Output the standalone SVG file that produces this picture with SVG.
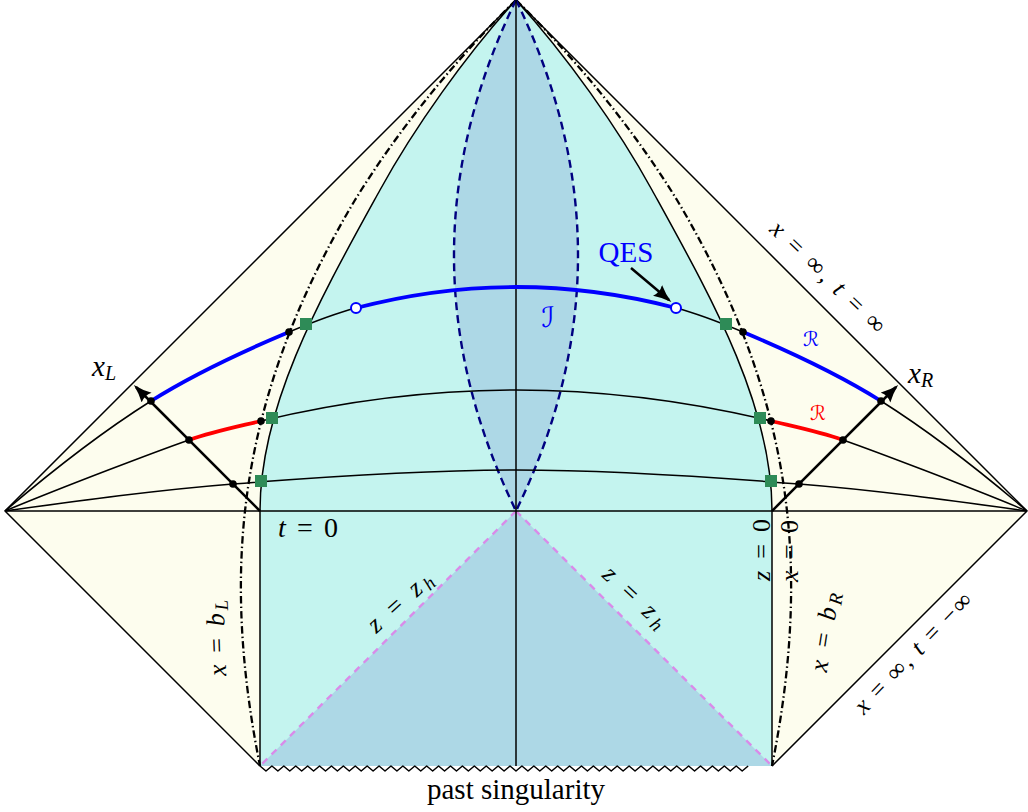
<svg xmlns="http://www.w3.org/2000/svg" width="1028" height="812" viewBox="0 0 1028 812">
<style>
.ln{fill:none;stroke:#000;stroke-width:1.5;stroke-linejoin:round}
.dd{fill:none;stroke:#000;stroke-width:2.3;stroke-dasharray:7.5 3 1.5 3}
.lens{fill:none;stroke:#000080;stroke-width:2.4;stroke-dasharray:8 5}
.vio{fill:none;stroke:#d98be9;stroke-width:2.4;stroke-dasharray:7 6}
.blue{fill:none;stroke:#0000ff;stroke-width:3.8;stroke-linecap:round}
.red{fill:none;stroke:#ff0000;stroke-width:3.8;stroke-linecap:round}
.arr{fill:none;stroke:#000;stroke-width:2.5}
.dot{fill:#000}
.sq{fill:#2e8b57}
.oc{fill:#fff;stroke:#0000ff;stroke-width:2}
text{font-family:"Liberation Serif","DejaVu Serif",serif;fill:#000}
.it{font-style:italic}
.scr{font-family:"DejaVu Serif","DejaVu Sans",serif}
</style>
<defs>
<marker id="ah" markerUnits="userSpaceOnUse" markerWidth="20" markerHeight="16" refX="15" refY="7" orient="auto">
<path d="M0,0 Q8,4.5 18,7 Q8,9.5 0,14 Q3.5,7 0,0 Z" fill="#000"/>
</marker>
</defs>

<g id="regions">
<polygon points="5,511 516,0 1027,511 772,766 260,766" fill="#fdfdee"/>
<path d="M516,0 C466,55 414,128 380,190 C321,297 260,404 260,511 L260,766 L772,766 L772,511 C772,404 711,297 652,190 C618,128 566,55 516,0 Z" fill="#c4f4ef"/>
<path d="M516,0 Q392,255.5 516,511 Q640,255.5 516,0 Z" fill="#add8e6"/>
<polygon points="516,511 260,766 772,766" fill="#add8e6"/>
</g>

<g id="connectors">
<polyline class="ln" points="260,766 5,511 516,0 1027,511 772,766"/>
<path class="ln" d="M260,766 L260,511 C260,404 321,297 380,190 C414,128 466,55 516,0 C566,55 618,128 652,190 C711,297 772,404 772,511 L772,766"/>
<path class="ln" d="M260,766 l5.953,5 5.953,-5 5.953,5 5.953,-5 5.953,5 5.953,-5 5.953,5 5.953,-5 5.953,5 5.953,-5 5.953,5 5.953,-5 5.953,5 5.953,-5 5.953,5 5.953,-5 5.953,5 5.953,-5 5.953,5 5.953,-5 5.953,5 5.953,-5 5.953,5 5.953,-5 5.953,5 5.953,-5 5.953,5 5.953,-5 5.953,5 5.953,-5 5.953,5 5.953,-5 5.953,5 5.953,-5 5.953,5 5.953,-5 5.953,5 5.953,-5 5.953,5 5.953,-5 5.953,5 5.953,-5 5.953,5 5.953,-5 5.953,5 5.953,-5 5.953,5 5.953,-5 5.953,5 5.953,-5 5.953,5 5.953,-5 5.953,5 5.953,-5 5.953,5 5.953,-5 5.953,5 5.953,-5 5.953,5 5.953,-5 5.953,5 5.953,-5 5.953,5 5.953,-5 5.953,5 5.953,-5 5.953,5 5.953,-5 5.953,5 5.953,-5 5.953,5 5.953,-5 5.953,5 5.953,-5 5.953,5 5.953,-5 5.953,5 5.953,-5 5.953,5 5.953,-5 5.953,5 5.953,-5"/>
<path class="dd" d="M516,0 C450,65 395,135 355,200 C293,304 256.4,407 245,511 C235.6,596 243,681 260,766"/>
<path class="dd" d="M516,0 C582,65 637,135 677,200 C739,304 775.6,407 787,511 C796.4,596 789,681 772,766"/>
<path class="lens" d="M516,0 Q392,255.5 516,511"/>
<path class="lens" d="M516,0 Q640,255.5 516,511"/>
<path class="vio" d="M516,511 L260,766 M516,511 L772,766"/>
<path class="ln" d="M516,0 L516,766 M5,511 L1027,511"/>
<path class="ln" d="M5,511 C53,470 103.7,430.8 151,401 C198.3,371.2 249,348.8 289,332 C311,322.8 332,314.3 356,308 Q516,266 676,308 C700,314.3 721,322.8 743,332 C783,348.8 833.7,371.2 881,401 C928.3,430.8 979,470 1027,511"/>
<path class="ln" d="M5,511 C65,486 159,450.5 189,440 C213,431.6 237,426.8 261,421 C346,400.6 436,390 516,390 C596,390 686,400.6 771,421 C795,426.8 819,431.6 843,440 C873,450.5 967,486 1027,511"/>
<path class="ln" d="M5,511 C81,500.5 157,490 233,484 C327,476.5 422,470 516,470 C610,470 705,476.5 799,484 C875,490 951,500.5 1027,511"/>
<path class="blue" d="M151,401 C198.3,371.2 249,348.8 289,332"/>
<path class="blue" d="M356,308 Q516,266 676,308"/>
<path class="blue" d="M743,332 C783,348.8 833.7,371.2 881,401"/>
<path class="red" d="M189,440 C213,431.6 237,426.8 261,421"/>
<path class="red" d="M771,421 C795,426.8 819,431.6 843,440"/>
<path class="arr" d="M260,511 L136,387" marker-end="url(#ah)"/>
<path class="arr" d="M772,511 L896,387" marker-end="url(#ah)"/>
<path class="arr" d="M631,268 L669,300" marker-end="url(#ah)"/>
</g>

<g id="points">
<circle class="dot" cx="151" cy="401" r="3.8"/>
<circle class="dot" cx="189" cy="440" r="3.8"/>
<circle class="dot" cx="233" cy="484" r="3.8"/>
<circle class="dot" cx="289" cy="332" r="3.8"/>
<circle class="dot" cx="261" cy="421" r="3.8"/>
<circle class="dot" cx="881" cy="401" r="3.8"/>
<circle class="dot" cx="843" cy="440" r="3.8"/>
<circle class="dot" cx="799" cy="484" r="3.8"/>
<circle class="dot" cx="743" cy="332" r="3.8"/>
<circle class="dot" cx="771" cy="421" r="3.8"/>
<rect class="sq" x="300" y="318" width="12" height="12"/>
<rect class="sq" x="266" y="412" width="12" height="12"/>
<rect class="sq" x="255" y="475" width="12" height="12"/>
<rect class="sq" x="720" y="318" width="12" height="12"/>
<rect class="sq" x="754" y="412" width="12" height="12"/>
<rect class="sq" x="765" y="475" width="12" height="12"/>
<circle class="oc" cx="356" cy="308" r="5"/>
<circle class="oc" cx="676" cy="308" r="5"/>
</g>

<g id="labels">
<text x="516" y="799" font-size="29" text-anchor="middle">past singularity</text>
<text x="278" y="537" font-size="28" textLength="60"><tspan class="it">t</tspan> = 0</text>
<text x="626" y="262" font-size="29" text-anchor="middle" style="fill:#0000ff">QES</text>
<text x="548" y="327" font-size="28" class="scr" text-anchor="middle" style="fill:#0000ff">ℐ</text>
<text x="811" y="346" font-size="20" class="scr" text-anchor="middle" style="fill:#0000ff">ℛ</text>
<text x="818" y="420" font-size="20" class="scr" text-anchor="middle" style="fill:#ff0000">ℛ</text>
<text x="92" y="376" font-size="29" class="it">x<tspan font-size="20" dy="4">L</tspan></text>
<text x="908" y="383" font-size="29" class="it">x<tspan font-size="20" dy="4">R</tspan></text>
<text transform="translate(762,550) rotate(-90)" y="8" font-size="26" text-anchor="middle" textLength="62"><tspan class="it">z</tspan> = 0</text>
<text transform="translate(790,551) rotate(-90)" y="8" font-size="26" text-anchor="middle" textLength="62"><tspan class="it">x</tspan> = 0</text>
<text transform="translate(217,638) rotate(-92)" y="8" font-size="26" text-anchor="middle" textLength="76"><tspan class="it">x</tspan> = <tspan class="it">b</tspan><tspan class="it" font-size="19" dy="4">L</tspan></text>
<text transform="translate(825,632) rotate(-81)" y="8" font-size="26" text-anchor="middle" textLength="80"><tspan class="it">x</tspan> = <tspan class="it">b</tspan><tspan class="it" font-size="19" dy="4">R</tspan></text>
<text transform="translate(400,602) rotate(-42)" y="8" font-size="26" text-anchor="middle" textLength="78"><tspan class="it">z</tspan> = <tspan class="it">z</tspan><tspan class="it" font-size="19" dy="4">h</tspan></text>
<text transform="translate(635,597) rotate(43)" y="8" font-size="26" text-anchor="middle" textLength="78"><tspan class="it">z</tspan> = <tspan class="it">z</tspan><tspan class="it" font-size="19" dy="4">h</tspan></text>
<text transform="translate(828,277) rotate(44)" y="8" font-size="25" text-anchor="middle" textLength="150"><tspan class="it">x</tspan> = ∞, <tspan class="it">t</tspan> = ∞</text>
<text transform="translate(913,653) rotate(-46)" y="8" font-size="25" text-anchor="middle" textLength="158"><tspan class="it">x</tspan> = ∞, <tspan class="it">t</tspan> = −∞</text>
</g>
</svg>
